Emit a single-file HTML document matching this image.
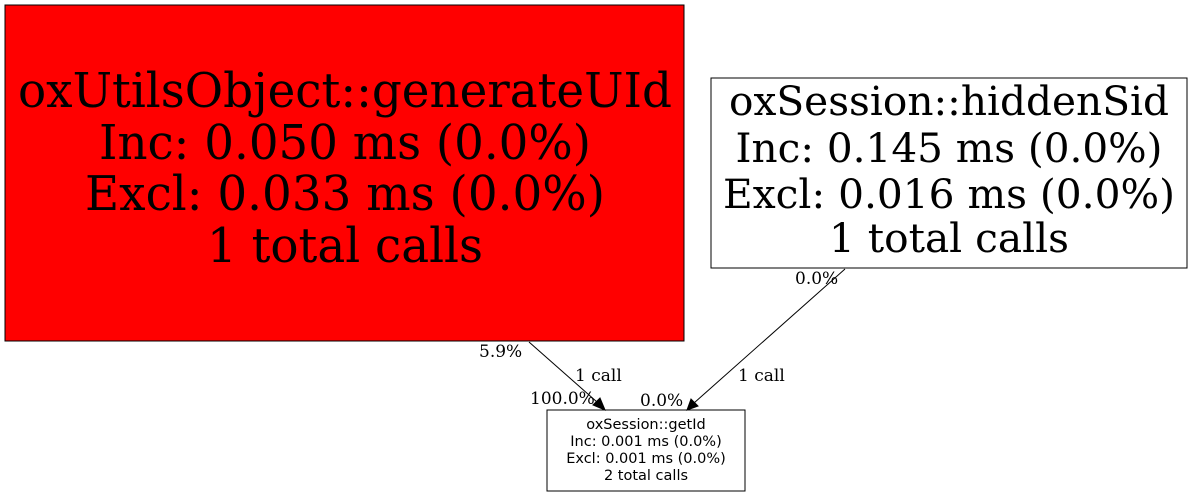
<!DOCTYPE html>
<html><head><style>html,body{margin:0;padding:0;background:#fff;}svg{display:block;}</style></head>
<body>
<svg width="1193" height="496" viewBox="0 0 1193 496" xmlns="http://www.w3.org/2000/svg">
<rect x="5" y="5" width="679" height="336" fill="#ff0000" stroke="#000" stroke-width="1"/>
<g font-family="DejaVu Serif, Liberation Serif, serif" font-size="48" text-anchor="middle" fill="#000">
<text x="345" y="107" textLength="654" lengthAdjust="spacingAndGlyphs">oxUtilsObject::generateUId</text>
<text x="345" y="159" textLength="492" lengthAdjust="spacingAndGlyphs">Inc: 0.050 ms (0.0%)</text>
<text x="345" y="210" textLength="520" lengthAdjust="spacingAndGlyphs">Excl: 0.033 ms (0.0%)</text>
<text x="345" y="262" textLength="276" lengthAdjust="spacingAndGlyphs">1 total calls</text>
</g>
<rect x="711" y="78" width="476" height="190" fill="#fff" stroke="#000" stroke-width="1"/>
<g font-family="DejaVu Serif, Liberation Serif, serif" font-size="40" text-anchor="middle" fill="#000">
<text x="949" y="115" textLength="440" lengthAdjust="spacingAndGlyphs">oxSession::hiddenSid</text>
<text x="949" y="162" textLength="427" lengthAdjust="spacingAndGlyphs">Inc: 0.145 ms (0.0%)</text>
<text x="949" y="208" textLength="452" lengthAdjust="spacingAndGlyphs">Excl: 0.016 ms (0.0%)</text>
<text x="949" y="252" textLength="240" lengthAdjust="spacingAndGlyphs">1 total calls</text>
</g>
<rect x="547" y="410" width="198" height="81" fill="#fff" stroke="#000" stroke-width="1"/>
<g font-family="DejaVu Sans, Liberation Sans, sans-serif" font-size="14.5" text-anchor="middle" fill="#000">
<text x="646" y="429">oxSession::getId</text>
<text x="646" y="446">Inc: 0.001 ms (0.0%)</text>
<text x="646" y="463">Excl: 0.001 ms (0.0%)</text>
<text x="646" y="480">2 total calls</text>
</g>
<line x1="529" y1="342" x2="597" y2="402" stroke="#000"/>
<polygon points="605,410 593,405 600,398" fill="#000" stroke="#000"/>
<line x1="845" y1="269" x2="694" y2="403" stroke="#000"/>
<polygon points="687,410 691,399 698,406" fill="#000" stroke="#000"/>
<g font-family="DejaVu Serif, Liberation Serif, serif" font-size="17" fill="#000">
<text x="479" y="357">5.9%</text>
<text x="575" y="381">1 call</text>
<text x="530" y="404">100.0%</text>
<text x="640" y="406">0.0%</text>
<text x="738" y="381">1 call</text>
<text x="795" y="284">0.0%</text>
</g>
</svg>
</body></html>
